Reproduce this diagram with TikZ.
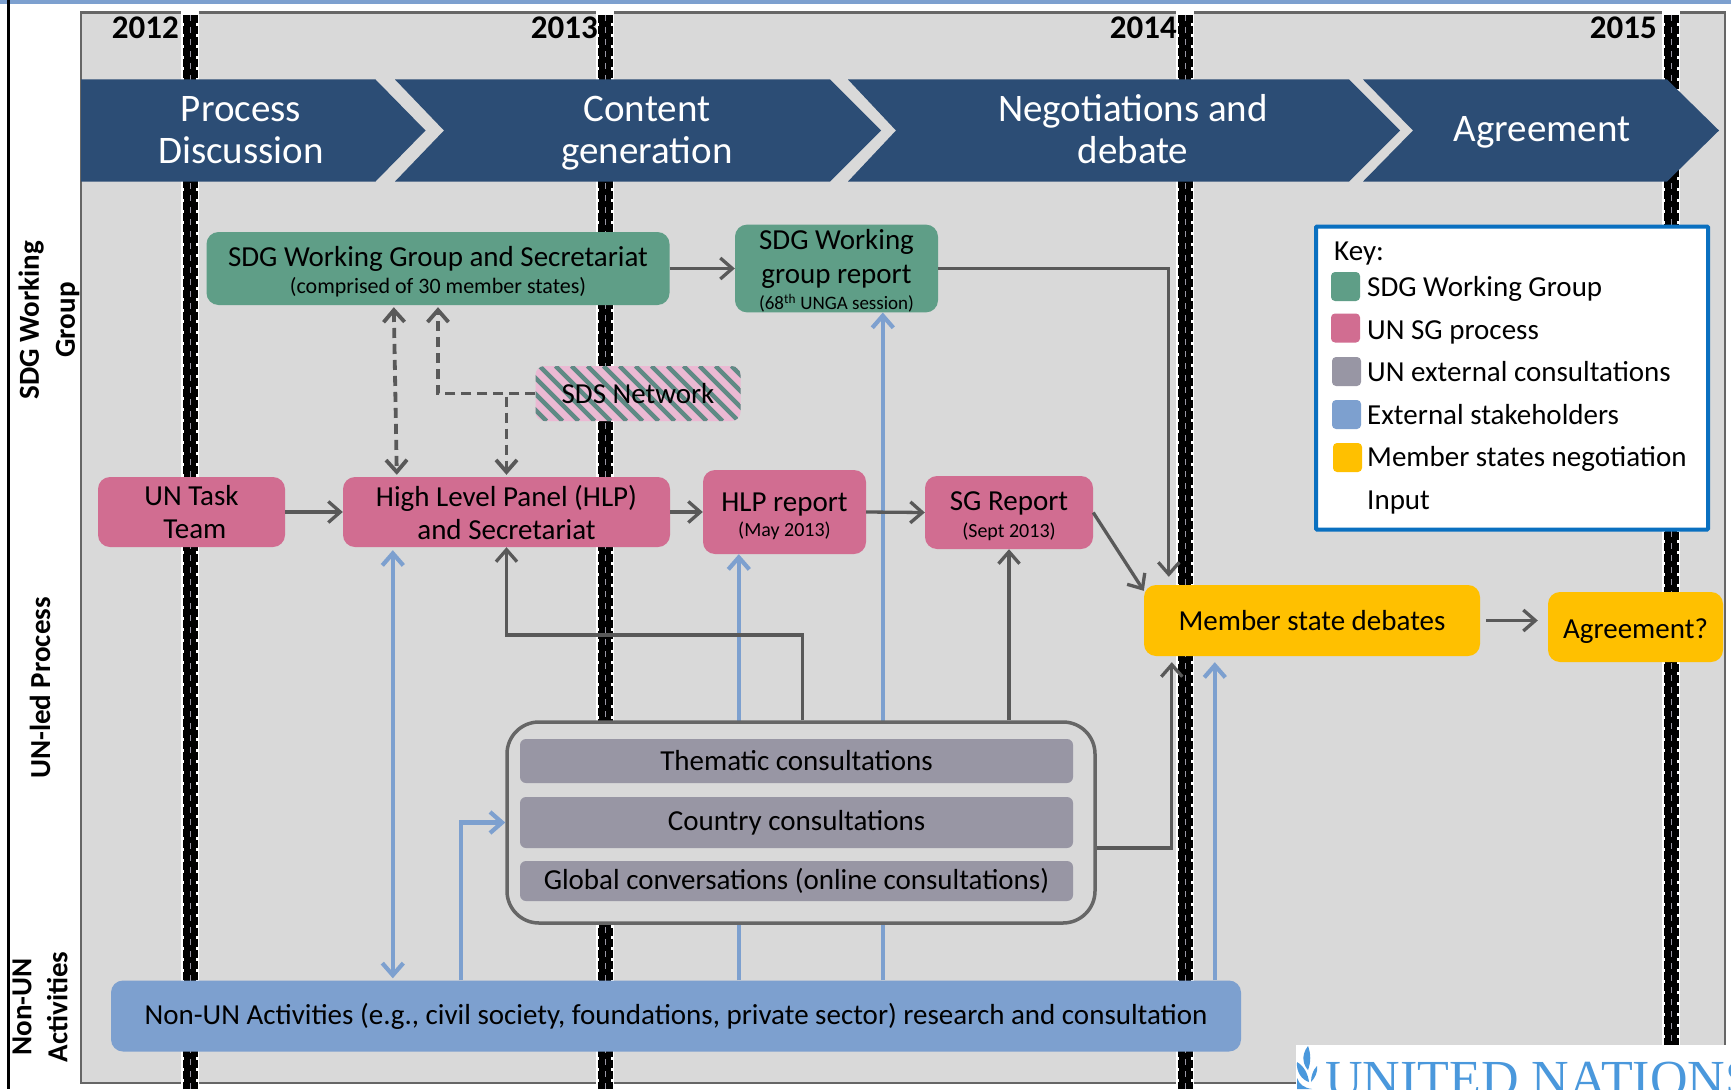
\documentclass[tikz,border=0pt]{standalone}
\usepackage{fontspec}
\setmainfont{Carlito}
\newfontfamily\logofont{Liberation Serif}
\usetikzlibrary{arrows.meta}
\definecolor{panelgray}{HTML}{D9D9D9}
\definecolor{edgegray}{HTML}{666666}
\definecolor{linkgray}{HTML}{595959}
\definecolor{navy}{HTML}{2C4D75}
\definecolor{sdggreen}{HTML}{5F9E87}
\definecolor{sgpink}{HTML}{D16D91}
\definecolor{consgray}{HTML}{9896A4}
\definecolor{extblue}{HTML}{7DA0CF}
\definecolor{gold}{HTML}{FFC000}
\definecolor{keyblue}{HTML}{0A70C0}
\definecolor{hatchpink}{HTML}{EBB9D3}
\definecolor{hatchgreen}{HTML}{5F8A85}
\definecolor{logoblue}{HTML}{4A98DC}
\newcommand{\fsz}[1]{\fontsize{#1}{#1}\selectfont}
\newcommand{\topstrut}[1]{\rule{0pt}{#1pt}}
\newcommand{\botstrut}{\rule[-10pt]{0pt}{10pt}}
\tikzset{
  boxbase/.style={inner sep=0pt,rounded corners=12pt,align=center,text=black,font=\fsz{29}},
  wgbox/.style={boxbase,fill=sdggreen},
  sgbox/.style={boxbase,fill=sgpink},
  consbox/.style={boxbase,fill=consgray,rounded corners=6pt,font=\fsz{29}},
  extbox/.style={boxbase,fill=extblue},
  goldbox/.style={boxbase,fill=gold},
  barbtip/.tip={Straight Barb[length=12pt,width=21pt]},
  darklink/.style={draw=linkgray,line width=3.3pt,-barbtip},
  dashlink/.style={darklink,line width=3.8pt,dash pattern=on 10pt off 6pt},
  bluelink/.style={draw=extblue,line width=4.2pt,-barbtip},
  yearlabel/.style={anchor=east,inner sep=0pt,font=\fsz{33}\bfseries},
  sidelabel/.style={rotate=90,inner sep=0pt,align=center,font=\fsz{29}\bfseries},
  bannertext/.style={inner sep=0pt,align=center,text=white,font=\fsz{39}},
  keytext/.style={anchor=west,inner sep=0pt,font=\fsz{29},text height=22pt,text depth=7pt},
  swatch/.style={inner sep=0pt,minimum width=29pt,minimum height=29pt,rounded corners=4pt}
}
\newcommand{\yearline}[1]{%
  \draw[white,line width=18pt] (#1,11) -- (#1,1089);
  \draw[black,line width=12pt] (#1,15) -- (#1,1089);
  \draw[black,line width=15pt,dash pattern=on 8pt off 3pt] (#1,15) -- (#1,1089);
  \draw[consgray,line width=1pt,dash pattern=on 6pt off 6pt] (#1,15) -- (#1,1089);
}
\begin{document}
\begin{tikzpicture}[x=1pt,y=-1pt]
\useasboundingbox (0,0) rectangle (1731,1089);
\fill[white] (0,0) rectangle (1731,1089);
\fill[extblue] (0,0) rectangle (1731,4);
\fill[black] (7,0) rectangle (9.5,1089);
% panel
\draw[fill=panelgray,draw=edgegray,line width=2.4pt] (81,12.5) rectangle (1725,1083);
% year lines
\yearline{190}
\yearline{605}
\yearline{1185}
\yearline{1671}
% years
\node[yearlabel] (y12) at (179,28) {2012};
\node[yearlabel] (y13) at (598,28) {2013};
\node[yearlabel] (y14) at (1177,28) {2014};
\node[yearlabel] (y15) at (1657,28) {2015};
% banner
\fill[navy] (81,79.5) -- (375.5,79.5) -- (425.5,130.5) -- (375.5,181.5) -- (81,181.5) -- cycle;
\fill[navy] (395,79.5) -- (830,79.5) -- (881,130.5) -- (830,181.5) -- (395,181.5) -- (444,130.5) -- cycle;
\fill[navy] (848,79.5) -- (1349,79.5) -- (1400,130.5) -- (1349,181.5) -- (848,181.5) -- (896,130.5) -- cycle;
\fill[navy] (1363,79.5) -- (1667,79.5) -- (1719,130.5) -- (1667,181.5) -- (1363,181.5) -- (1413,130.5) -- cycle;
\node[bannertext] (b1) at (241,132.5) {\topstrut{30}Process\\[4pt]Discussion\botstrut};
\node[bannertext] (b2) at (647,132.5) {\topstrut{30}Content\\[4pt]generation\botstrut};
\node[bannertext] (b3) at (1133,132.5) {\topstrut{30}Negotiations and\\[4pt]debate\botstrut};
\node[bannertext] (b4) at (1542,132.3) {Agreement};
% side labels
\node[sidelabel] (s1) at (49,320) {SDG Working\\[7pt]Group};
\node[sidelabel] (s2) at (40,688) {UN-led Process};
\node[sidelabel] (s3) at (40,1007) {Non-UN\\[7pt]Activities};
% boxes
\node[wgbox,minimum width=463pt,minimum height=73pt] (wg) at (438,268.5) {\topstrut{27}SDG Working Group and Secretariat\\[-2.5pt]{\fsz{22}(comprised of 30 member states)}};
\node[wgbox,minimum width=203pt,minimum height=87pt] (report) at (836.5,268.5) {\topstrut{24.5}SDG Working\\[5pt]group report\\[-2.4pt]{\fsz{19}(68\textsuperscript{th} UNGA session)}};
\node[boxbase,minimum width=205pt,minimum height=55pt,rounded corners=9pt,fill=hatchpink,
  path picture={
    \foreach \s in {-60,-44,...,220}{
      \draw[hatchgreen,line width=4.5pt] ([xshift=\s pt]path picture bounding box.north west) -- ([xshift=\s pt+55pt]path picture bounding box.south west);
    }
  }] (sds) at (638,393.5) {SDS Network};
\node[sgbox,minimum width=187pt,minimum height=70pt] (untask) at (191.5,512) {UN Task\\[4pt]\hspace*{6.6pt}Team};
\node[sgbox,minimum width=327pt,minimum height=70pt] (hlp) at (506.5,512) {High Level Panel (HLP)\\[4pt]and Secretariat};
\node[sgbox,minimum width=163pt,minimum height=84pt] (hlpr) at (784.5,512) {\topstrut{27.6}HLP report\\[-3.6pt]{\fsz{20}(May 2013)}};
\node[sgbox,minimum width=168pt,minimum height=73pt] (sg) at (1009,512.5) {\topstrut{26.5}SG Report\\[-2.5pt]{\fsz{20}(Sept 2013)}};
\node[goldbox,minimum width=336pt,minimum height=71pt] (member) at (1312,620.5) {Member state debates};
\node[goldbox,minimum width=175pt,minimum height=70pt] (agree) at (1635.5,627) {\topstrut{27.6}Agreement?};
\node[extbox,minimum width=1130pt,minimum height=71pt] (nonun) at (676,1016) {Non-UN Activities (e.g., civil society, foundations, private sector) research and consultation};
% blue lines passing behind the consultations group
\draw[bluelink] ([xshift=628pt]nonun.north west) -- ([xshift=36pt]hlpr.south west);
\draw[bluelink] ([xshift=772pt]nonun.north west) -- ([xshift=148pt]report.south west);
% consultations group
\node[boxbase,draw=edgegray,line width=3.5pt,fill=panelgray,rounded corners=32pt,minimum width=588pt,minimum height=201pt] (group) at (801,822.5) {};
\node[consbox,minimum width=553pt,minimum height=44pt] (them) at (796.5,761) {Thematic consultations};
\node[consbox,minimum width=553pt,minimum height=51pt] (country) at (796.5,822.5) {Country consultations};
\node[consbox,minimum width=553pt,minimum height=40pt] (global) at (796.5,881) {Global conversations (online consultations)};
% dark connectors
\draw[darklink] (wg.east) -- (report.west);
\draw[darklink] (report.east) -| ([xshift=25pt,yshift=8pt]member.north west);
\draw[darklink] (untask.east) -- (hlp.west);
\draw[darklink] (hlp.east) -- (hlpr.west);
\draw[darklink] (hlpr.east) -- (sg.west);
\draw[darklink] (sg.east) -- ([yshift=-6pt]member.north west);
\draw[darklink,shorten <=6pt,shorten >=10pt] (member.east) -- (agree.west |- member.east);
\draw[darklink] ([xshift=297pt]group.north west) |- (506.5,635) -- (hlp.south);
\draw[darklink] (group.north -| sg.south) -- (sg.south);
\draw[darklink] ([yshift=-25.5pt]group.east) -| ([xshift=28pt,yshift=-6pt]member.south west);
% dashed connectors
\draw[dashlink,barbtip-barbtip] ([xshift=187.5pt,yshift=-2pt]wg.south west) -- ([xshift=54pt,yshift=2pt]hlp.north west);
\draw[dashlink,shorten >=2pt] (sds.west) -| (wg.south);
\draw[dashlink,shorten >=2pt] (sds.west) -| (hlp.north);
% blue connectors
\draw[bluelink,barbtip-barbtip] ([xshift=50pt,yshift=-3pt]hlp.south west) -- ([xshift=282pt,yshift=2pt]nonun.north west);
\draw[bluelink] ([xshift=350.5pt]nonun.north west) |- (group.west);
\draw[bluelink] ([xshift=1104pt]nonun.north west) -- ([xshift=71pt,yshift=-6pt]member.south west);
% key
\node[draw=keyblue,fill=white,line width=4pt,inner sep=0pt,rounded corners=1pt,minimum width=392pt,minimum height=303pt] (key) at (1512,378) {};
\node[keytext] (kt) at (1334,252.5) {Key:};
\node[swatch,fill=sdggreen] (k1) at (1345.5,286.5) {};
\node[swatch,fill=sgpink] (k2) at (1345.5,328) {};
\node[swatch,fill=consgray] (k3) at (1346.5,371.5) {};
\node[swatch,fill=extblue] (k4) at (1346.5,414.5) {};
\node[swatch,fill=gold] (k5) at (1347.5,457.5) {};
\node[keytext] (t1) at (1367,289) {SDG Working Group};
\node[keytext] (t2) at (1367,332) {UN SG process};
\node[keytext] (t3) at (1367,374.3) {UN external consultations};
\node[keytext] (t4) at (1367,416.5) {External stakeholders};
\node[keytext] (t5) at (1367,459) {Member states negotiation};
\node[keytext] (t6) at (1367,501.5) {Input};
% logo
\fill[white] (1296,1045) rectangle (1731,1089);
\begin{scope}
\clip (1296,1045) rectangle (1731,1089);
\node[anchor=base west,inner sep=0pt,text=logoblue,font=\logofont\fsz{52}] (logo) at (1325,1096) {UNITED NATIONS};
\fill[logoblue] (1308,1046) .. controls (1300,1056) and (1304,1066) .. (1308,1070) .. controls (1311,1062) and (1311,1054) .. (1308,1046) -- cycle;
\fill[logoblue] (1297,1062) .. controls (1296,1072) and (1302,1080) .. (1309,1082) .. controls (1308,1074) and (1304,1066) .. (1297,1062) -- cycle;
\fill[logoblue] (1317,1066) .. controls (1313,1070) and (1311,1076) .. (1311,1082) .. controls (1315,1078) and (1318,1072) .. (1317,1066) -- cycle;
\fill[logoblue] (1297,1078) .. controls (1299,1084) and (1304,1088) .. (1312,1089) -- (1297,1089) -- cycle;
\end{scope}
\end{tikzpicture}
\end{document}
